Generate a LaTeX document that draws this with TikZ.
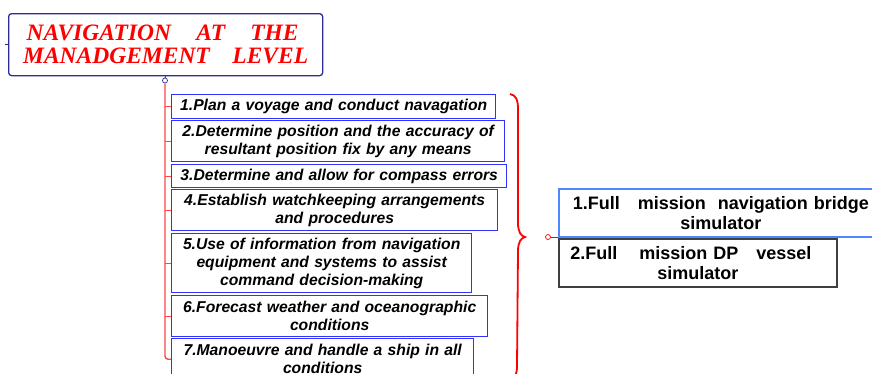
\documentclass[tikz,border=0pt]{standalone}
\usepackage{fontspec}
\setmainfont{Liberation Serif}
\setsansfont{Liberation Sans}
\definecolor{titleblue}{RGB}{45,45,150}
\definecolor{listblue}{RGB}{50,50,255}
\definecolor{trunkred}{RGB}{255,70,70}
\definecolor{rblue}{RGB}{80,135,255}
\definecolor{rgray}{RGB}{64,64,64}
\begin{document}
\begin{tikzpicture}[x=1pt,y=-1pt,
  titlebox/.style={draw=titleblue, line width=1.3pt, rounded corners=3pt, anchor=north west, inner sep=0pt, align=center,
    minimum width=314pt, minimum height=62pt, text=red, font=\rmfamily\bfseries\itshape\fontsize{23.5}{23.3}\selectfont},
  listbox/.style={draw=listblue, line width=1.4pt, anchor=north west, inner xsep=0pt, inner ysep=0pt, align=center,
    text=black, font=\sffamily\bfseries\itshape\fontsize{15.7}{18}\selectfont},
  rbox/.style={line width=1.8pt, anchor=north west, inner xsep=0pt, inner ysep=0pt, align=center,
    text=black, font=\sffamily\bfseries\fontsize{18}{20}\selectfont, minimum height=48pt},
  trunk/.style={draw=trunkred, line width=1.4pt},
  knob/.style={circle, inner sep=0pt, minimum size=5pt, line width=0.7pt}]
\clip (0,0) rectangle (872,373);
\fill[white] (0,0) rectangle (872,373);

% title
\node[titlebox] (title) at (8,13) {\mbox{\makebox[272pt]{NAVIGATION\hfill AT\hfill THE}\hspace{6pt}}\\\makebox[285pt]{MANADGEMENT\hfill LEVEL}};
\draw[titleblue, line width=1pt] (title.west) -- ++(-3,0);
\node[knob, draw=titleblue] (tk) at (165,80.5) {};
\draw[titleblue, line width=1pt] (title.south) -- (tk.north);

% list boxes
\node[listbox, text width=324pt, minimum height=24pt] (b1) at (171,94) {1.Plan a voyage and conduct navagation};
\node[listbox, text width=333pt, minimum height=41pt] (b2) at (171,120) {2.Determine position and the accuracy of\\resultant position fix by any means};
\node[listbox, text width=335pt, minimum height=23pt] (b3) at (171,164) {3.Determine and allow for compass errors};
\node[listbox, text width=326pt, minimum height=41pt] (b4) at (171,189) {4.Establish watchkeeping arrangements\\and procedures};
\node[listbox, text width=300pt, minimum height=59pt] (b5) at (171,233) {5.Use of information from navigation\\equipment and systems to assist\\command decision-making};
\node[listbox, text width=316pt, minimum height=41pt] (b6) at (171,295) {6.Forecast weather and oceanographic\\conditions};
\node[listbox, text width=302pt, minimum height=41pt] (b7) at (171,338) {7.Manoeuvre and handle a ship in all\\conditions};

% trunk
\draw[trunk, rounded corners=3pt] (tk.south) |- (b7.west);
\foreach \b in {b1,b2,b3,b4,b5,b6}
  \draw[trunk] (tk.south |- \b.west) -- (\b.west);

% brace
\draw[red, line width=1.8pt]
  (510,94) .. controls (516,95) and (518,100) .. (518,109) -- (518,223)
  .. controls (518,232) and (521,236) .. (525,237)
  .. controls (521,238) and (518,242) .. (518,251) -- (517,366)
  .. controls (517,374) and (515,379) .. (510,380);

% right boxes
\node[rbox, draw=rblue, text width=324pt] (r1) at (558,188) {1.Full\hspace{18pt}mission\hspace{12pt}navigation bridge\\simulator};
\node[rbox, draw=rgray, text width=278pt] (r2) at (558,238) {\mbox{2.Full\hspace{22pt}mission DP\hspace{18pt}vessel\hspace{14pt}}\\simulator};
\node[knob, draw=red] (rk) at (548,237) {};
\draw[red, line width=0.8pt] (rk.east) -- (rk.east -| r1.west);
\end{tikzpicture}
\end{document}
